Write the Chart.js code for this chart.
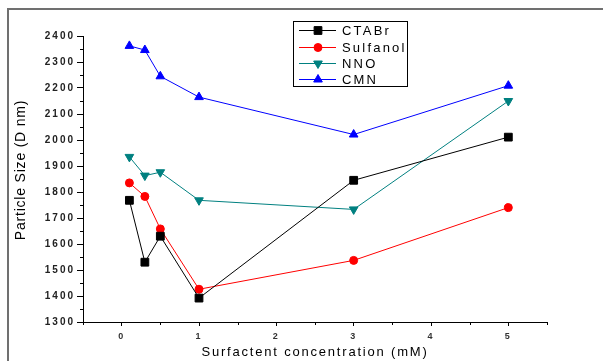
<!DOCTYPE html>
<html>
<head>
<meta charset="utf-8">
<script src="https://cdn.jsdelivr.net/npm/chart.js@4/dist/chart.umd.min.js"></script>
<style>
  html, body { margin: 0; padding: 0; background: #fff; }
  #wrap { width: 603px; height: 361px; }
</style>
</head>
<body>
<div id="wrap"><canvas id="plot"></canvas></div>
<script>
// data
const concentrations = [0.1, 0.3, 0.5, 1, 3, 5];
const ctabr    = [1768, 1530, 1630, 1392, 1845, 2011];
const sulfanol = [1835, 1783, 1658, 1426, 1537, 1740];
const nno      = [1935, 1863, 1876, 1768, 1733, 2150];
const cmn      = [2362, 2346, 2245, 2165, 2021, 2209];
const seriesNames = ['CTABr', 'Sulfanol', 'NNO', 'CMN'];
const xTicks = [0, 1, 2, 3, 4, 5];
const yTicks = [1300, 1400, 1500, 1600, 1700, 1800, 1900, 2000, 2100, 2200, 2300, 2400];

const FONT = '"Liberation Sans", Arial, sans-serif';

function pts(vals) {
  return concentrations.map((c, i) => ({ x: c, y: vals[i] }));
}

const styles = [
  { color: '#000000', pointStyle: 'rect', radius: 5.5, rotation: 0 },
  { color: '#ff0000', pointStyle: 'circle', radius: 4, rotation: 0 },
  { color: '#008080', pointStyle: 'triangle', radius: 5, rotation: 180 },
  { color: '#0000ff', pointStyle: 'triangle', radius: 5, rotation: 0 }
];
const allValues = [ctabr, sulfanol, nno, cmn];

const datasets = allValues.map((vals, i) => ({
  label: seriesNames[i],
  data: pts(vals),
  borderColor: styles[i].color,
  backgroundColor: styles[i].color,
  borderWidth: 1,
  pointStyle: styles[i].pointStyle,
  pointRadius: styles[i].radius,
  pointRotation: styles[i].rotation,
  pointBorderWidth: 1,
  tension: 0
}));

// frame, minor ticks, axis titles and the boxed legend
const extras = {
  id: 'extras',
  beforeDraw(chart) {
    const ctx = chart.ctx;
    ctx.save();
    ctx.strokeStyle = '#707070';
    ctx.lineWidth = 2;
    ctx.beginPath();
    ctx.moveTo(8, 361);
    ctx.lineTo(8, 9);
    ctx.lineTo(603, 9);
    ctx.stroke();
    ctx.restore();
    ctx.letterSpacing = '2px';
  },
  afterDraw(chart) {
    const ctx = chart.ctx;
    const xs = chart.scales.x, ys = chart.scales.y;
    ctx.save();
    ctx.letterSpacing = '0px';
    ctx.strokeStyle = '#000';
    ctx.lineWidth = 1;
    ctx.beginPath();
    for (let v = 1350; v < 2400; v += 100) {
      const py = Math.round(ys.getPixelForValue(v)) + 0.5;
      ctx.moveTo(ys.right - 3, py);
      ctx.lineTo(ys.right, py);
    }
    for (let v = -0.5; v <= 5.5; v += 1) {
      const px = Math.round(xs.getPixelForValue(v)) + 0.5;
      ctx.moveTo(px, xs.top);
      ctx.lineTo(px, xs.top + 3);
    }
    ctx.stroke();

    // axis titles
    ctx.fillStyle = '#000';
    ctx.font = '13px ' + FONT;
    ctx.letterSpacing = '1.8px';
    ctx.textAlign = 'center';
    ctx.textBaseline = 'middle';
    ctx.fillText('Surfactent concentration (mM)', 315, 352);
    ctx.save();
    ctx.translate(21, 170);
    ctx.rotate(-Math.PI / 2);
    ctx.letterSpacing = '0.8px';
    ctx.font = '14px ' + FONT;
    ctx.fillText('Particle Size (D nm)', 0, 0);
    ctx.restore();

    // legend box
    ctx.letterSpacing = '0px';
    ctx.strokeRect(293.5, 21.5, 114, 65);
    const rows = [30, 47, 63, 79];
    chart.data.datasets.forEach((ds, i) => {
      const y = rows[i];
      ctx.strokeStyle = ds.borderColor;
      ctx.fillStyle = ds.backgroundColor;
      ctx.lineWidth = 1;
      ctx.beginPath();
      ctx.moveTo(299, y + 0.5);
      ctx.lineTo(336, y + 0.5);
      ctx.stroke();
      if (Chart.helpers && Chart.helpers.drawPoint) {
        Chart.helpers.drawPoint(ctx, {
          pointStyle: ds.pointStyle, rotation: ds.pointRotation,
          radius: ds.pointRadius, borderWidth: 1
        }, 318, y + 0.5);
      } else {
        ctx.beginPath();
        ctx.arc(318, y + 0.5, 4, 0, Math.PI * 2);
        ctx.fill();
      }
      ctx.fillStyle = '#000';
      ctx.font = '13px ' + FONT;
      ctx.letterSpacing = '2.2px';
      ctx.textAlign = 'left';
      ctx.textBaseline = 'middle';
      ctx.fillText(ds.label, 342, y + 1);
      ctx.letterSpacing = '0px';
    });
    ctx.restore();
  }
};

new Chart(document.getElementById('plot'), {
  type: 'line',
  data: { datasets: datasets },
  plugins: [extras],
  options: {
    responsive: true,
    maintainAspectRatio: false,
    animation: false,
    layout: { padding: { top: 36, right: 56, left: 0, bottom: 0 } },
    plugins: { legend: { display: false }, tooltip: { enabled: false } },
    scales: {
      x: {
        type: 'linear',
        min: -0.5,
        max: 5.5,
        afterBuildTicks: s => { s.ticks = xTicks.map(v => ({ value: v })); },
        afterFit: s => { s.height = 39; },
        grid: { drawOnChartArea: false, tickLength: 4, tickColor: '#000' },
        border: { color: '#000', width: 1 },
        ticks: { color: '#333', padding: 5, font: { family: FONT, size: 9, weight: 'bold' }, maxRotation: 0,
                 callback: v => String(v) }
      },
      y: {
        min: 1300,
        max: 2400,
        afterBuildTicks: s => { s.ticks = yTicks.map(v => ({ value: v })); },
        afterFit: s => { s.width = 83; },
        grid: { drawOnChartArea: false, tickLength: 6, tickColor: '#000' },
        border: { color: '#000', width: 1 },
        ticks: { color: '#222', padding: 2, font: { family: FONT, size: 10, weight: 'bold' },
                 callback: v => String(v) }
      }
    }
  }
});
</script>
</body>
</html>
